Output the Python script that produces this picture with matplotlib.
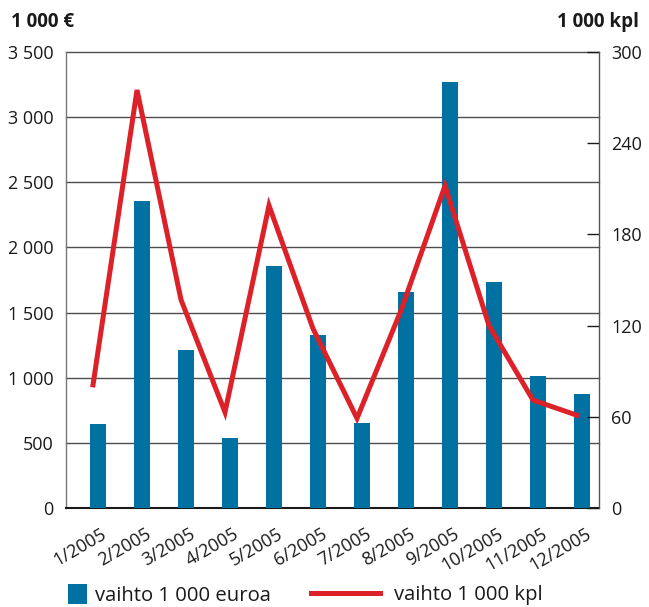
import matplotlib
matplotlib.use("Agg")
import matplotlib.pyplot as plt
from matplotlib.patches import Patch
from matplotlib.lines import Line2D
from matplotlib.transforms import ScaledTranslation
import numpy as np

plt.rcParams['font.family'] = ['Open Sans', 'DejaVu Sans']

months = ["1/2005", "2/2005", "3/2005", "4/2005", "5/2005", "6/2005",
          "7/2005", "8/2005", "9/2005", "10/2005", "11/2005", "12/2005"]
vaihto_eur = [645, 2356, 1213, 537, 1857, 1328, 652, 1658, 3270, 1735, 1013, 875]
vaihto_kpl = [81, 275, 137, 63, 199, 118, 59, 130, 212, 120, 71, 61]
left_ticks = [0, 500, 1000, 1500, 2000, 2500, 3000, 3500]
left_labels = ["0", "500", "1 000", "1 500", "2 000", "2 500", "3 000", "3 500"]
right_ticks = [0, 60, 120, 180, 240, 300]

blue = "#0071A1"
red = "#DC2128"
txt = '#1a1a1a'

fig = plt.figure(figsize=(6.49, 6.07), dpi=100)
ax = fig.add_axes([66/649, 1-508/607, (599-66)/649, (508-52)/607])
x = np.arange(len(months))

ax.bar(x + 0.114, vaihto_eur, width=0.364, color=blue, zorder=3)
ax.set_ylim(0, 3500)
ax.set_xlim(-0.614, 11.5)
ax.set_yticks(left_ticks)
ax.set_yticklabels(left_labels)
ax.tick_params(axis='y', length=0, pad=9, labelsize=13, colors=txt)
for t in left_ticks[1:]:
    ax.axhline(t, color='#4d4d4d', lw=1.0, zorder=1, clip_on=False)
ax.set_xticks(x)
ax.set_xticklabels(months, rotation=30, ha='right', rotation_mode='anchor')
ax.tick_params(axis='x', length=0, pad=8, labelsize=13, colors=txt)
off = ScaledTranslation(8/100, -6/100, fig.dpi_scale_trans)
for lab in ax.get_xticklabels():
    lab.set_transform(lab.get_transform() + off)

ax.spines['top'].set_visible(False)
ax.spines['left'].set_color('#777777')
ax.spines['left'].set_linewidth(1.0)
ax.spines['right'].set_visible(False)
ax.spines['bottom'].set_color(txt)
ax.spines['bottom'].set_linewidth(1.5)

ax2 = ax.twinx()
ax2.plot(x, vaihto_kpl, color=red, lw=3.6, zorder=5, solid_joinstyle='miter')
ax2.set_ylim(0, 300)
ax2.set_yticks(right_ticks)
ax2.tick_params(axis='y', direction='in', length=9, width=1.0, pad=9,
                labelsize=13, colors=txt)
ax2.spines['top'].set_visible(False)
ax2.spines['left'].set_visible(False)
ax2.spines['bottom'].set_visible(False)
ax2.spines['right'].set_color('#555555')
ax2.spines['right'].set_linewidth(1.0)
ax.set_zorder(1)
ax2.set_zorder(2)
ax2.patch.set_visible(False)

fig.text(11/649, 1-22/607, "1 000 €", fontsize=13.5, fontweight='bold',
         va='center', ha='left', color=txt)
fig.text(639/649, 1-22/607, "1 000 kpl", fontsize=13.5, fontweight='bold',
         va='center', ha='right', color=txt)

leg1 = fig.legend([Patch(facecolor=blue, edgecolor='none')], ["vaihto 1 000 euroa"],
                  loc='center left', bbox_to_anchor=(68/649, 1-595/607),
                  frameon=False, fontsize=14.6, handlelength=0.95, handleheight=1.1,
                  handletextpad=0.38, borderpad=0, borderaxespad=0, labelcolor=txt)
leg2 = fig.legend([Line2D([0], [0], color=red, lw=3.6)], ["vaihto 1 000 kpl"],
                  loc='center left', bbox_to_anchor=(311/649, 1-595/607),
                  frameon=False, fontsize=14.6, handlelength=3.4,
                  handletextpad=0.7, borderpad=0, borderaxespad=0, labelcolor=txt)

fig.savefig("out.png", dpi=100)
